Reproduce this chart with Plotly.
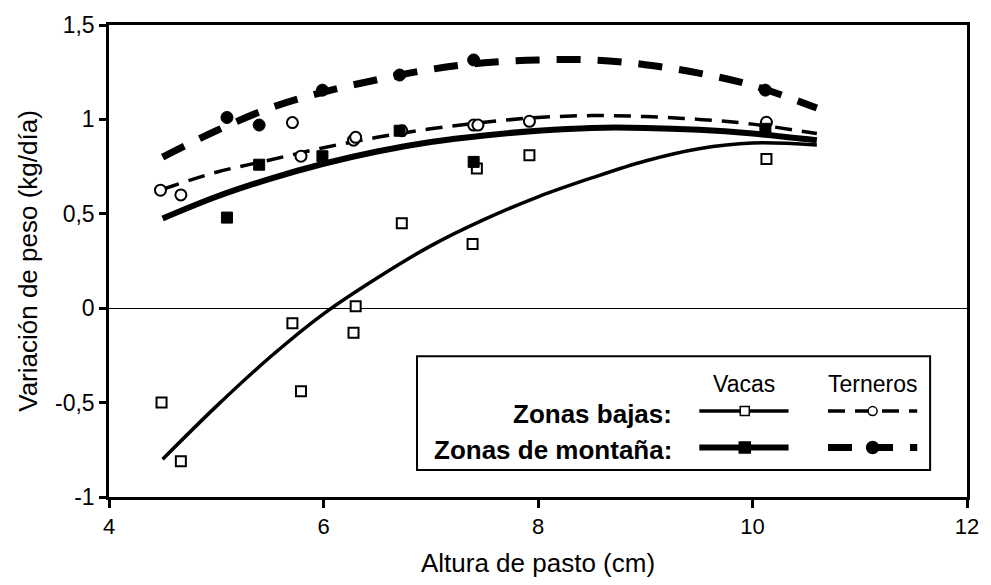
import plotly.graph_objects as go

# ---------------- data ----------------
# Zonas bajas - Vacas (open squares)
bv_x = [4.49, 4.67, 5.71, 5.79, 6.28, 6.30, 6.73, 7.39, 7.43, 7.92, 10.13]
bv_y = [-0.50, -0.81, -0.08, -0.44, -0.13, 0.01, 0.45, 0.34, 0.74, 0.81, 0.79]
# Zonas bajas - Terneros (open circles)
bt_x = [4.48, 4.67, 5.71, 5.79, 6.28, 6.30, 6.73, 7.40, 7.44, 7.92, 10.13]
bt_y = [0.625, 0.60, 0.983, 0.805, 0.89, 0.905, 0.94, 0.97, 0.97, 0.99, 0.985]
# Zonas de montaña - Vacas (filled squares)
mv_x = [5.10, 5.40, 5.99, 6.71, 7.40, 10.12]
mv_y = [0.48, 0.76, 0.805, 0.94, 0.775, 0.95]
# Zonas de montaña - Terneros (filled circles)
mt_x = [5.10, 5.40, 5.99, 6.71, 7.40, 10.12]
mt_y = [1.01, 0.97, 1.155, 1.235, 1.315, 1.155]

# fitted curves
fit_x = [4.5, 5.0, 5.5, 6.0, 6.5, 7.0, 7.5, 8.0, 8.5, 9.0, 9.5, 10.0, 10.6]
bv_fit = [-0.80, -0.52, -0.26, -0.03, 0.16, 0.33, 0.47, 0.59, 0.69, 0.78, 0.845, 0.875, 0.865]
bt_fit = [0.63, 0.72, 0.785, 0.85, 0.905, 0.95, 0.985, 1.01, 1.02, 1.015, 1.0, 0.975, 0.925]
mv_fit = [0.475, 0.59, 0.685, 0.765, 0.83, 0.88, 0.915, 0.94, 0.955, 0.955, 0.945, 0.925, 0.89]
mt_fit = [0.80, 0.94, 1.06, 1.145, 1.21, 1.265, 1.30, 1.315, 1.315, 1.29, 1.245, 1.18, 1.06]

x_ticks = [4, 6, 8, 10, 12]
y_ticks = [-1, -0.5, 0, 0.5, 1, 1.5]
y_ticktext = ["-1", "-0,5", "0", "0,5", "1", "1,5"]

FONT = "Liberation Sans, Arial, Helvetica, sans-serif"
THIN_DASH = "17px,10px"
THICK_DASH = "24px,17px"

fig = go.Figure()

# curves
fig.add_trace(go.Scatter(x=fit_x, y=bv_fit, mode="lines",
                         line=dict(color="black", width=3.5, shape="spline")))
fig.add_trace(go.Scatter(x=fit_x, y=mv_fit, mode="lines",
                         line=dict(color="black", width=6, shape="spline")))
fig.add_trace(go.Scatter(x=fit_x, y=bt_fit, mode="lines",
                         line=dict(color="black", width=3.5, shape="spline", dash=THIN_DASH)))
fig.add_trace(go.Scatter(x=fit_x, y=mt_fit, mode="lines",
                         line=dict(color="black", width=7, shape="spline", dash=THICK_DASH)))

# points
fig.add_trace(go.Scatter(x=bv_x, y=bv_y, mode="markers",
                         marker=dict(symbol="square", size=10, color="white",
                                     line=dict(color="black", width=2))))
fig.add_trace(go.Scatter(x=bt_x, y=bt_y, mode="markers",
                         marker=dict(symbol="circle", size=11, color="white",
                                     line=dict(color="black", width=2))))
fig.add_trace(go.Scatter(x=mv_x, y=mv_y, mode="markers",
                         marker=dict(symbol="square", size=11, color="black",
                                     line=dict(color="black", width=1))))
fig.add_trace(go.Scatter(x=mt_x, y=mt_y, mode="markers",
                         marker=dict(symbol="circle", size=12, color="black",
                                     line=dict(color="black", width=1))))

# ---------------- custom legend (overlay axes in 0..1 space) ----------------
lg_vac = [0.688, 0.741, 0.792]
lg_ter = [0.838, 0.890, 0.942]
row_bajas = 0.182
row_mont = 0.105

def legend_sample(xs, yv, width, dash, msym, msize, mcolor):
    fig.add_trace(go.Scatter(x=[xs[0], xs[2]], y=[yv, yv], mode="lines",
                             xaxis="x2", yaxis="y2",
                             line=dict(color="black", width=width, dash=dash)))
    fig.add_trace(go.Scatter(x=[xs[1]], y=[yv], mode="markers",
                             xaxis="x2", yaxis="y2",
                             marker=dict(symbol=msym, size=msize, color=mcolor,
                                         line=dict(color="black", width=1.5))))

legend_sample(lg_vac, row_bajas, 3.5, "solid", "square", 9, "white")
legend_sample(lg_ter, row_bajas, 3.5, THIN_DASH, "circle", 9, "white")
legend_sample(lg_vac, row_mont, 6, "solid", "square", 11, "black")
legend_sample(lg_ter, row_mont, 7, THICK_DASH, "circle", 12, "black")

fig.add_shape(type="rect", xref="paper", yref="paper",
              x0=0.359, x1=0.957, y0=0.057, y1=0.298,
              line=dict(color="black", width=2), fillcolor="white", layer="below")

ann = [
    dict(text="Vacas", x=0.740, y=0.239, xanchor="center", bold=False),
    dict(text="Terneros", x=0.890, y=0.239, xanchor="center", bold=False),
    dict(text="<b>Zonas bajas:</b>", x=0.659, y=0.175, xanchor="right", bold=True),
    dict(text="<b>Zonas de montaña:</b>", x=0.659, y=0.099, xanchor="right", bold=True),
]
for a in ann:
    fig.add_annotation(text=a["text"], x=a["x"], y=a["y"], xref="paper", yref="paper",
                       xanchor=a["xanchor"], yanchor="middle", showarrow=False,
                       font=dict(family=FONT, size=26 if a["bold"] else 23, color="black"))

fig.update_layout(
    width=991, height=585,
    margin=dict(l=109, r=16, t=22, b=86),
    paper_bgcolor="white", plot_bgcolor="white",
    showlegend=False,
    font=dict(family=FONT, size=22, color="black"),
    xaxis=dict(range=[4, 12], tickvals=x_ticks, ticktext=[str(v) for v in x_ticks],
               showgrid=False, zeroline=False, showline=True, linecolor="black",
               linewidth=2.5, mirror=True, ticks="outside", ticklen=8, tickwidth=2.5,
               tickcolor="black", tickfont=dict(size=22),
               title=dict(text="Altura de pasto (cm)", font=dict(size=26), standoff=16)),
    yaxis=dict(range=[-1, 1.5], tickvals=y_ticks, ticktext=y_ticktext,
               showgrid=False, zeroline=True, zerolinecolor="black", zerolinewidth=1.3,
               showline=True, linecolor="black", linewidth=2.5, mirror=True,
               ticks="outside", ticklen=7, tickwidth=2.5, tickcolor="black",
               tickfont=dict(size=23),
               title=dict(text="Variación de peso (kg/día)", font=dict(size=26), standoff=10)),
    xaxis2=dict(range=[0, 1], overlaying="x", visible=False, fixedrange=True),
    yaxis2=dict(range=[0, 1], overlaying="y", visible=False, fixedrange=True),
)

fig.write_html("out.html")
